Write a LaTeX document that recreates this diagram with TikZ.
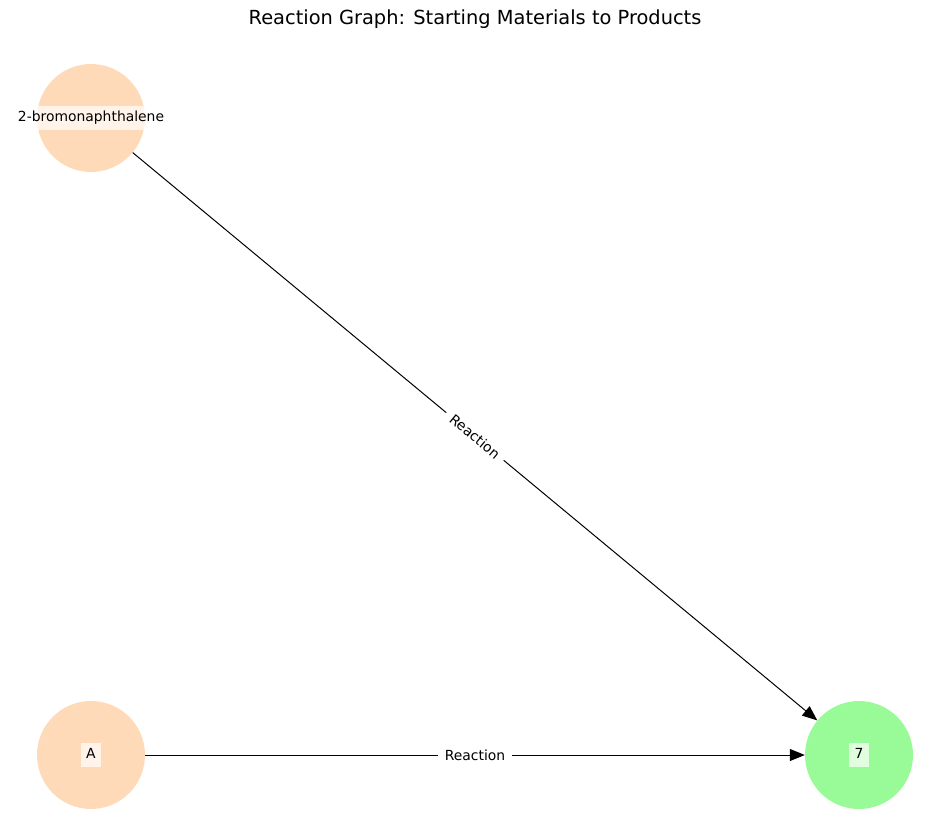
\documentclass[tikz,border=0pt]{standalone}
\usepackage{fontspec}
\setmainfont{DejaVu Sans}
\usetikzlibrary{arrows.meta}
\definecolor{peach}{HTML}{FFDAB9}
\definecolor{palegreen}{HTML}{98FB98}
\begin{document}
\begin{tikzpicture}[x=1pt,y=-1pt,
  species/.style={circle, draw=none, minimum size=108pt, inner sep=0pt},
  start/.style={species, fill=peach},
  product/.style={species, fill=palegreen},
  namebox/.style={fill=white, fill opacity=0.7, text opacity=1, font=\fontsize{13.9}{16}\selectfont,
    text height=10.5pt, text depth=3pt, inner xsep=5.5pt, inner ysep=5.5pt},
  edgelabel/.style={fill=white, font=\fontsize{13.9}{16}\selectfont, inner xsep=7pt, inner ysep=3pt},
  reaction/.style={line width=1pt, -{Triangle[length=15pt,width=12pt]}}
]
\useasboundingbox (0,0) rectangle (950,832);

\node[font=\fontsize{19.4}{23}\selectfont] (title) at (475,19) {Reaction Graph: Starting Materials to Products};

% species
\node[start] (bromo) at (91,118) {};
\node[start] (a) at (91,755) {};
\node[product] (p7) at (859,755) {};

% reactions
\draw[reaction] (bromo) -- node[sloped, edgelabel] {Reaction} (p7);
\draw[reaction] (a) -- node[edgelabel] {Reaction} (p7);

% species names
\node[namebox] (bromoname) at (bromo) {2-bromonaphthalene};
\node[namebox] (aname) at (a) {A};
\node[namebox] (p7name) at (p7) {7};
\end{tikzpicture}
\end{document}
